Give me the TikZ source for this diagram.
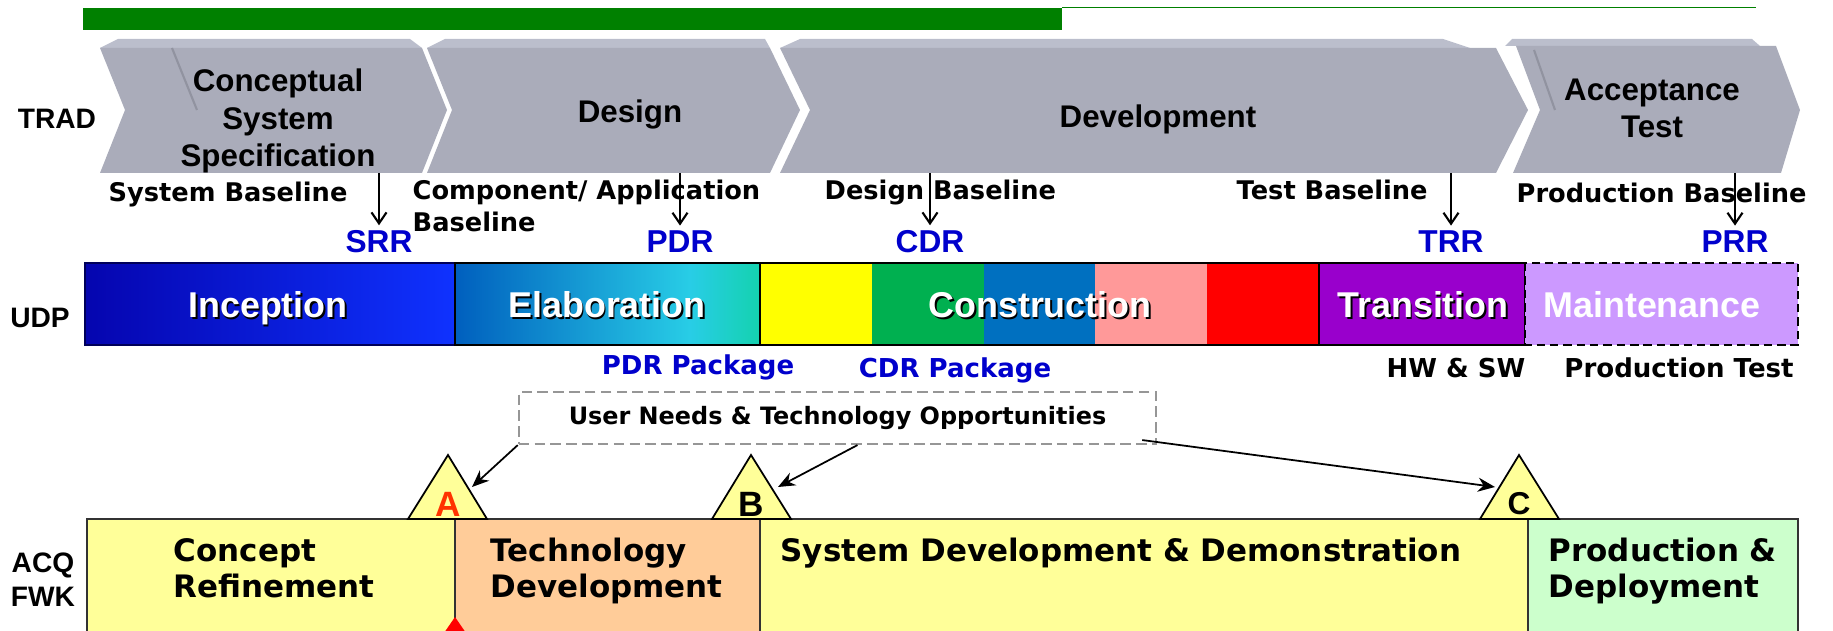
\documentclass[tikz,border=0pt]{standalone}
\usepackage{fontspec}
\setmainfont{DejaVu Sans}
\newfontfamily\arialfont{Liberation Sans}
\usetikzlibrary{arrows.meta,positioning,calc}
\definecolor{chevfill}{RGB}{170,172,186}
\definecolor{chevtop}{RGB}{187,190,204}
\definecolor{chevline}{RGB}{145,147,160}
\definecolor{progress}{RGB}{0,128,0}
\definecolor{review}{RGB}{0,0,204}
\definecolor{incepA}{RGB}{5,5,175}
\definecolor{incepB}{RGB}{15,50,255}
\definecolor{incepedge}{RGB}{0,0,90}
\definecolor{elabA}{RGB}{0,95,190}
\definecolor{elabB}{RGB}{40,205,230}
\definecolor{elabC}{RGB}{20,210,175}
\definecolor{cyellow}{RGB}{255,255,0}
\definecolor{cgreen}{RGB}{0,176,80}
\definecolor{cblue}{RGB}{0,112,192}
\definecolor{cpink}{RGB}{255,153,153}
\definecolor{cred}{RGB}{255,0,0}
\definecolor{trans}{RGB}{153,0,204}
\definecolor{maint}{RGB}{204,153,255}
\definecolor{paleyellow}{RGB}{255,255,153}
\definecolor{peach}{RGB}{255,204,153}
\definecolor{palegreen}{RGB}{204,255,204}
\definecolor{dashgray}{RGB}{150,150,150}
\definecolor{gateA}{RGB}{255,51,0}
\newcommand{\udpphase}[3]{%
  \node[udpshadow] at (#2+1.8,319.8) {#3};
  \node[udptext] (#1) at (#2,318) {#3};}

\begin{document}
\begin{tikzpicture}[x=0.01cm, y=-0.01cm,
  chevron/.style={fill=chevfill},
  chevbevel/.style={fill=chevtop},
  chevtext/.style={font=\arialfont\bfseries\fontsize{8.9}{10.7}\selectfont, align=center, anchor=base, inner sep=0},
  rowname/.style={font=\arialfont\bfseries\fontsize{8}{9.6}\selectfont, align=center, inner sep=0},
  basetext/.style={font=\bfseries\fontsize{7.3}{9.1}\selectfont, align=left, anchor=base west, inner sep=0},
  revlabel/.style={font=\arialfont\bfseries\fontsize{9}{10}\selectfont, text=review, anchor=base, inner sep=0},
  revarrow/.style={-{Straight Barb[length=1.1mm, width=1.5mm]}, line width=0.6pt, shorten >=1.4pt},
  udpbar/.style={draw=black, line width=0.7pt},
  udptext/.style={font=\arialfont\bfseries\fontsize{10.2}{12}\selectfont, anchor=base, inner sep=0, text=white},
  udpshadow/.style={udptext, text=black},
  pkgtext/.style={font=\bfseries\fontsize{7.4}{9}\selectfont, anchor=base, inner sep=0},
  acqbox/.style={draw=black!80, line width=0.5pt},
  acqtext/.style={font=\bfseries\fontsize{8.8}{10.3}\selectfont, align=left, anchor=base west, inner sep=0},
  gate/.style={draw=black, line width=0.5pt, fill=paleyellow},
  gatetext/.style={font=\arialfont\bfseries\fontsize{10}{11}\selectfont, anchor=base, inner sep=0},
  needsbox/.style={draw=dashgray, dash pattern=on 3pt off 1.5pt, line width=0.6pt,
                   minimum width=6.37cm, minimum height=0.52cm, font=\bfseries\fontsize{6.8}{8}\selectfont},
  needsarrow/.style={-{Stealth[length=1.7mm, width=1.4mm]}, line width=0.5pt}]
  \useasboundingbox (0,0) rectangle (1833,631);

  % progress bar
  \fill[progress] (83,8) rectangle (1062,30);
  \draw[progress, line width=0.5pt] (1062,7.5) -- (1756,7.5);

  % TRAD chevrons
  \fill[chevbevel] (100,48) -- (118,39) -- (410,39) -- (422,48) -- cycle;
  \fill[chevron] (100,48) -- (422,48) -- (447,110) -- (422,173) -- (100,173) -- (125,110) -- cycle;
  \draw[chevline, line width=0.6pt] (172,48) -- (197,110);
  \fill[chevbevel] (427,48) -- (445,39) -- (765,39) -- (770,48) -- cycle;
  \fill[chevron] (427,48) -- (770,48) -- (800,110) -- (770,173) -- (427,173) -- (452,110) -- cycle;
  \fill[chevbevel] (780,48) -- (800,39) -- (1443,39) -- (1470,48) -- cycle;
  \fill[chevron] (780,48) -- (1496,48) -- (1528,110) -- (1496,173) -- (780,173) -- (810,110) -- cycle;
  \fill[chevbevel] (1505,46) -- (1512,39) -- (1752,39) -- (1760,46) -- cycle;
  \fill[chevron] (1516,46) -- (1776,46) -- (1800,110) -- (1781,173) -- (1513,173) -- (1540,110) -- cycle;
  \draw[chevline, line width=0.6pt] (1534,50) -- (1555,110);
  \coordinate (chevbot) at (0,173);

  \node[rowname] (trad) at (57,119) {TRAD};
  \node[rowname] (udp) at (40,318) {UDP};
  \node[rowname] (acq) at (43,580) {ACQ\\FWK};

  \node[chevtext] (css) at (278,167) {Conceptual\\System\\Specification};
  \node[chevtext] (design) at (630,123) {Design};
  \node[chevtext] (devel) at (1158,128) {Development};
  \node[chevtext] (accept) at (1652,138) {Acceptance\\Test};

  \node[basetext] (sysbl) at (108,202) {System Baseline};
  \node[basetext] (compbl) at (412,232) {Component/ Application\\Baseline};
  \node[basetext] (desbl) at (824,200) {Design Baseline};
  \node[basetext] (testbl) at (1236,200) {Test Baseline};
  \node[basetext] (prodbl) at (1516,203) {Production Baseline};

  \node[revlabel] (srr) at (379,253) {SRR};
  \node[revlabel] (pdr) at (680,253) {PDR};
  \node[revlabel] (cdr) at (930,253) {CDR};
  \node[revlabel] (trr) at (1451,253) {TRR};
  \node[revlabel] (prr) at (1735,253) {PRR};
  \foreach \r in {srr,pdr,cdr,trr,prr}
    \draw[revarrow] (\r.north |- chevbot) -- (\r.north);

  % UDP phases
  \shade[left color=incepA, right color=incepB] (85,263) rectangle (455,345);
  \draw[incepedge, line width=0.5pt] (85,263) rectangle (455,345);
  \shade[left color=elabA, right color=elabB] (455,263) rectangle (690,345);
  \shade[left color=elabB, right color=elabC] (690,263) rectangle (760,345);
  \foreach \c [count=\i from 0] in {cyellow,cgreen,cblue,cpink,cred}
    \fill[\c] (760+111.8*\i,263) rectangle ++(112,82);
  \draw[udpbar] (455,263) rectangle (1319,345);
  \draw[udpbar] (760,263) -- (760,345);
  \draw[udpbar, fill=trans] (1319,263) rectangle (1525,345);
  \draw[udpbar, fill=maint, dash pattern=on 2.4pt off 1.4pt] (1525,263) rectangle (1798,345);

  \udpphase{incep}{268}{Inception}
  \udpphase{elab}{607}{Elaboration}
  \udpphase{constr}{1040}{Construction}
  \udpphase{transit}{1423}{Transition}
  \node[udptext] (maintain) at (1652,318) {Maintenance};

  \node[pkgtext, text=review] (pdrpkg) at (698,375) {PDR Package};
  \node[pkgtext, text=review] (cdrpkg) at (955,378) {CDR Package};
  \node[pkgtext] (hwsw) at (1456,378) {HW \& SW};
  \node[pkgtext] (prodtest) at (1679,378) {Production Test};

  % acquisition framework
  \draw[acqbox, fill=paleyellow] (87,519) rectangle (455,640);
  \draw[acqbox, fill=peach] (455,519) rectangle (760,640);
  \draw[acqbox, fill=paleyellow] (760,519) rectangle (1528,640);
  \draw[acqbox, fill=palegreen] (1528,519) rectangle (1798,640);
  \fill[cred] (455,617) -- (466,633) -- (444,633) -- cycle;

  \draw[gate] (408,519) -- (448,455) -- (487,519) -- cycle;
  \draw[gate] (712,519) -- (751,455) -- (791,519) -- cycle;
  \draw[gate] (1480,519) -- (1519,455) -- (1559,519) -- cycle;
  \node[gatetext, text=gateA] (gA) at (448,517) {A};
  \node[gatetext] (gB) at (751,517) {B};
  \node[gatetext, font=\arialfont\bfseries\fontsize{9}{10}\selectfont] (gC) at (1519,515) {C};

  \node[acqtext] (concept) at (173,598) {Concept\\Refinement};
  \node[acqtext] (techdev) at (490,598) {Technology\\Development};
  \node[acqtext] (sdd) at (780,562) {System Development \& Demonstration};
  \node[acqtext] (proddep) at (1548,598) {Production \&\\Deployment};

  \node[needsbox] (needs) at (837.5,418) {User Needs \& Technology Opportunities};
  \coordinate (tipA) at (472,487);
  \coordinate (tipB) at (778,487);
  \coordinate (tipC) at (1495,487);
  \draw[needsarrow] (needs.south west) -- (tipA);
  \draw[needsarrow] ($(needs.south)+(20,0)$) -- (tipB);
  \draw[needsarrow] ($(needs.south east)+(-15,-5)$) -- (tipC);
\end{tikzpicture}
\end{document}
